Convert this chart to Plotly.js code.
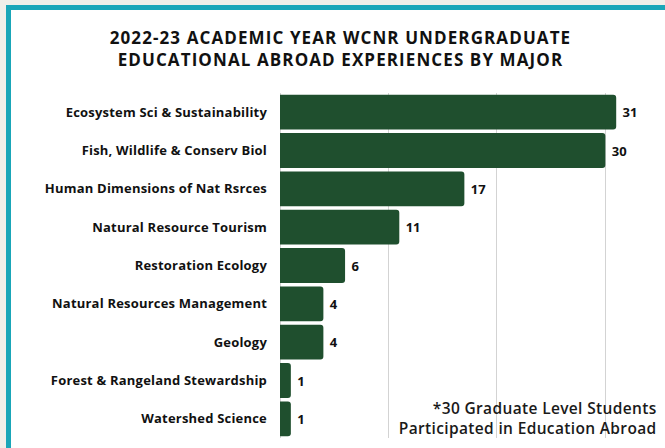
<!DOCTYPE html>
<html>
<head>
<meta charset="utf-8">
<script src="https://cdn.plot.ly/plotly-3.0.1.min.js"></script>
<style>
  html, body { margin: 0; padding: 0; width: 665px; height: 448px; overflow: hidden; background: #efefe9; }
  #panel { position: absolute; left: 6px; top: 5px; width: 700px; height: 500px; background: #ffffff;
           border-left: 5px solid #19a6b8; border-top: 5px solid #19a6b8; }
  #chart { position: absolute; left: 0; top: 0; width: 665px; height: 448px; }
  #chart .ytick text { letter-spacing: 0.2px; }
  #chart .gtitle { letter-spacing: 1.1px; }
  #chart .annotation-text { letter-spacing: 0.35px; }
</style>
</head>
<body>
<div id="panel"></div>
<div id="chart"></div>
<script>
const majors = [
  "Ecosystem Sci & Sustainability",
  "Fish, Wildlife & Conserv Biol",
  "Human Dimensions of Nat Rsrces",
  "Natural Resource Tourism",
  "Restoration Ecology",
  "Natural Resources Management",
  "Geology",
  "Forest & Rangeland Stewardship",
  "Watershed Science"
];
const students = [31, 30, 17, 11, 6, 4, 4, 1, 1];
const titleText = "2022-23 ACADEMIC YEAR WCNR UNDERGRADUATE<br>EDUCATIONAL ABROAD EXPERIENCES BY MAJOR";
const noteText = "*30 Graduate Level Students<br>Participated in Education Abroad";

const FONT = "'Open Sans', Roboto, sans-serif";

const trace = {
  type: "bar",
  orientation: "h",
  y: majors,
  x: students,
  text: students.map(v => "\u00a0" + v),
  textposition: "outside",
  cliponaxis: false,
  textfont: { family: FONT, size: 13, color: "#111111", weight: 700 },
  marker: { color: "#1f4f2e", cornerradius: 3 },
  hoverinfo: "none"
};

const layout = {
  width: 665, height: 448,
  paper_bgcolor: "rgba(0,0,0,0)",
  plot_bgcolor: "rgba(0,0,0,0)",
  margin: { l: 280, r: 0, t: 93, b: 10 },
  showlegend: false,
  bargap: 0.09,
  title: {
    text: titleText,
    x: 0.512, xanchor: "center",
    y: 0.902, yanchor: "top",
    font: { family: FONT, size: 17, color: "#111111", weight: 700 }
  },
  xaxis: {
    range: [0, 35.5],
    dtick: 10,
    showgrid: true,
    gridcolor: "#d3d3d3",
    gridwidth: 1,
    zeroline: true,
    zerolinecolor: "#d3d3d3",
    showticklabels: false,
    ticks: ""
  },
  yaxis: {
    autorange: "reversed",
    ticks: "",
    ticklabelstandoff: 12,
    tickfont: { family: FONT, size: 13, color: "#111111", weight: 700 }
  },
  annotations: [{
    text: noteText,
    xref: "paper", yref: "paper",
    x: 1, y: 0.0,
    xanchor: "right", yanchor: "bottom",
    xshift: -6, yshift: -3,
    align: "right",
    showarrow: false,
    font: { family: FONT, size: 15.5, color: "#1a1a1a", weight: 600 }
  }]
};

Plotly.newPlot("chart", [trace], layout, { staticPlot: true, displayModeBar: false });
</script>
</body>
</html>
